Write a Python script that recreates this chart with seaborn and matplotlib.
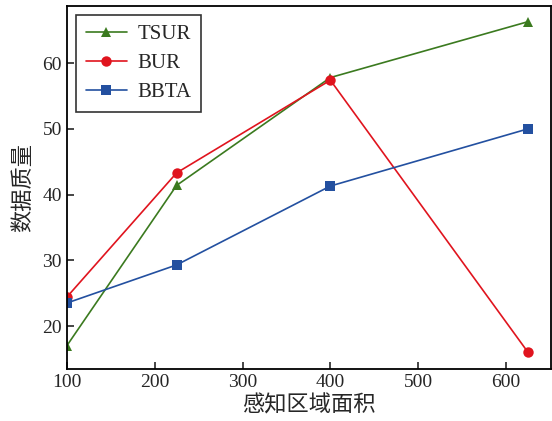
import pandas as pd
import matplotlib.pyplot as plt
import seaborn as sns

area = [100, 225, 400, 625]
tsur = [17.0, 41.4, 57.8, 66.3]
bur = [24.4, 43.3, 57.4, 16.0]
bbta = [23.5, 29.3, 41.3, 50.0]

series = ['TSUR', 'BUR', 'BBTA']
colors = {'TSUR': '#3b7a1f', 'BUR': '#e0141e', 'BBTA': '#2350a0'}
markers = {'TSUR': '^', 'BUR': 'o', 'BBTA': 's'}

df = pd.DataFrame({
    'area': area * 3,
    'quality': tsur + bur + bbta,
    'method': [s for s in series for _ in area],
})

sns.set_style('ticks')
plt.rcParams['font.family'] = ['Liberation Serif', 'Noto Sans CJK SC']

fig = plt.figure(figsize=(5.52, 4.21), dpi=100)
ax = fig.add_axes([0.121, 0.124, 0.877, 0.862])

sns.lineplot(data=df, x='area', y='quality', hue='method', style='method',
             palette=colors, markers=markers, dashes=False, markersize=7.5,
             markeredgewidth=0, linewidth=1.2, ax=ax)

ax.set_xlim(100, 651)
ax.set_ylim(13.5, 68.7)
ax.set_xticks([100, 200, 300, 400, 500, 600])
ax.set_yticks([20, 30, 40, 50, 60])
ax.tick_params(direction='in', labelsize=14, length=5, width=1.2)
for sp in ax.spines.values():
    sp.set_linewidth(1.3)
    sp.set_color('black')

ax.set_xlabel('感知区域面积', fontsize=16, family=['Noto Sans CJK SC'], labelpad=2)
ax.set_ylabel('数据质量', fontsize=16, family=['Noto Sans CJK SC'], labelpad=6)

leg = ax.legend(loc='upper left', fontsize=15, frameon=True, fancybox=False,
                edgecolor='black', borderpad=0.45, handlelength=2.0,
                handletextpad=0.5, labelspacing=0.45,
                bbox_to_anchor=(0.0, 1.0), borderaxespad=0.45)
leg.get_frame().set_linewidth(1.2)
leg.set_title(None)

plt.savefig('out.png', dpi=100)
plt.close()
